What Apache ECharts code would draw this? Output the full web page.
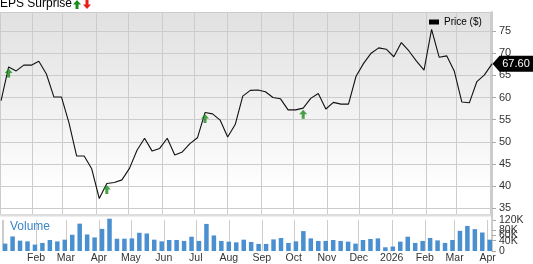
<!DOCTYPE html>
<html>
<head>
<meta charset="utf-8">
<script src="https://cdn.jsdelivr.net/npm/echarts@6/dist/echarts.min.js"></script>
<style>
html,body{margin:0;padding:0;background:#fff;}
#chart{width:533px;height:264px;}
</style>
</head>
<body>
<div id="chart"></div>
<script>
var weekDates = [
 '2025-01-03','2025-01-10','2025-01-17','2025-01-24','2025-01-31',
 '2025-02-07','2025-02-14','2025-02-21','2025-02-28',
 '2025-03-07','2025-03-14','2025-03-21','2025-03-28',
 '2025-04-04','2025-04-11','2025-04-18','2025-04-25',
 '2025-05-02','2025-05-09','2025-05-16','2025-05-23','2025-05-30',
 '2025-06-06','2025-06-13','2025-06-20','2025-06-27',
 '2025-07-04','2025-07-11','2025-07-18','2025-07-25',
 '2025-08-01','2025-08-08','2025-08-15','2025-08-22','2025-08-29',
 '2025-09-05','2025-09-12','2025-09-19','2025-09-26',
 '2025-10-03','2025-10-10','2025-10-17','2025-10-24','2025-10-31',
 '2025-11-07','2025-11-14','2025-11-21','2025-11-28',
 '2025-12-05','2025-12-12','2025-12-19','2025-12-26',
 '2026-01-02','2026-01-09','2026-01-16','2026-01-23','2026-01-30',
 '2026-02-06','2026-02-13','2026-02-20','2026-02-27',
 '2026-03-06','2026-03-13','2026-03-20','2026-03-27',
 '2026-04-03'
];
var priceValues = [
 59.3,66.9,66.0,67.3,67.3,68.2,65.3,60.1,60.1,54.2,
 46.8,46.8,43.9,37.2,40.6,40.8,41.4,44.0,48.1,50.8,
 47.9,48.5,50.8,47.0,47.7,49.6,50.9,56.6,56.3,54.9,
 51.1,53.9,60.3,61.6,61.7,61.3,60.0,59.7,57.2,57.2,
 57.6,59.8,60.9,57.4,58.9,58.5,58.5,64.8,67.7,70.0,
 71.2,70.9,69.2,72.4,70.5,68.2,66.2,75.4,69.1,69.4,
 66.0,59.0,58.8,63.6,65.1,67.6
];
var volumeValues = [
 28600,56400,40000,37300,24800,31200,42700,37300,43800,62900,
 105900,64000,52600,85700,125000,47600,47600,48800,70500,67800,
 43800,37300,42700,42700,38900,55200,38900,104800,60200,38900,
 36200,33500,43800,35000,27400,27400,45000,50300,31200,37300,
 77000,48800,38900,38900,42700,38900,36200,28600,42700,46500,
 48800,14500,17100,36200,55200,31200,38900,50300,41100,31200,
 42700,78100,97100,84600,71600,43800
];
var epsBeatDates = ['2025-01-10','2025-04-11','2025-07-11','2025-10-10'];
var priceTicks = [35,40,45,50,55,60,65,70,75];
var volumeTicks = [0,20000,40000,60000,80000,100000,120000];
var monthNames = ['Jan','Feb','Mar','Apr','May','Jun','Jul','Aug','Sep','Oct','Nov','Dec'];

var FONT = '"Liberation Sans", Arial, sans-serif';
function ts(s){ var p = s.split('-'); return Date.UTC(+p[0], +p[1]-1, +p[2]); }
var priceData = weekDates.map(function(d,i){ return [ts(d), priceValues[i]]; });
var volumeData = weekDates.map(function(d,i){ return [ts(d), volumeValues[i]]; });
var epsData = epsBeatDates.map(function(d){ return [ts(d), priceValues[weekDates.indexOf(d)]]; });
var lastIdx = weekDates.length - 1;
var xMin = Date.UTC(2025,0,2), xMax = ts(weekDates[lastIdx]);

var chart = echarts.init(document.getElementById('chart'), null, {renderer:'canvas'});
var upArrow = 'path://M4,0 L8,4.5 L5.5,4.5 L5.5,9 L2.5,9 L2.5,4.5 L0,4.5 Z';
var upPts = [[4,0],[8,4.5],[5.5,4.5],[5.5,9],[2.5,9],[2.5,4.5],[0,4.5]];
var downPts = [[2.5,0],[5.5,0],[5.5,4.5],[8,4.5],[4,9],[0,4.5],[2.5,4.5]];

function xAxisCfg(extra){
  var o = {
    type:'time', min:xMin, max:xMax, splitNumber:15,
    minInterval: 28*864e5, maxInterval: 31*864e5,
    axisLine:{show:false}, axisTick:{show:false},
    splitLine:{show:true, lineStyle:{color:'#cccccc', width:1}}
  };
  for (var k in extra) o[k] = extra[k];
  return o;
}

chart.setOption({
  animation:false,
  useUTC:true,
  textStyle:{fontFamily:FONT},
  title:[
    {text:'EPS Surprise', left:0, top:-2, padding:0,
     textStyle:{fontSize:12, fontWeight:'normal', color:'#000', fontFamily:FONT}},
    {text:'Volume', left:10, top:221, padding:0,
     textStyle:{fontSize:12, fontWeight:'normal', color:'#3a87c8', fontFamily:FONT}}
  ],
  legend:{
    data:['Price ($)'], left:424, top:12, icon:'rect', itemWidth:10, itemHeight:5,
    textStyle:{fontSize:10, color:'#000', fontFamily:FONT}, selectedMode:false
  },
  graphic:[
    {type:'polygon', shape:{points:upPts}, x:73, y:0, style:{fill:'#1a8c1a'}},
    {type:'polygon', shape:{points:downPts}, x:83, y:0, style:{fill:'#e8201c'}},
    {type:'rect', shape:{x:0, y:214, width:492, height:2.5}, style:{fill:'#dddddd'}, z:10},
    {type:'rect', shape:{x:491, y:213, width:2, height:8}, style:{fill:'#cccccc'}, z:10}
  ],
  grid:[
    {left:0, right:41, top:12, height:202, show:true, borderWidth:0,
     backgroundColor:{type:'linear', x:0, y:0, x2:0, y2:1,
       colorStops:[{offset:0, color:'#e1e1e1'},{offset:0.9, color:'#ffffff'},{offset:1, color:'#ffffff'}]}},
    {left:0, right:41, top:220, height:31.5}
  ],
  xAxis:[
    xAxisCfg({gridIndex:0, axisLabel:{show:false}}),
    xAxisCfg({gridIndex:1, axisLabel:{
      show:true, margin:2, fontSize:10.5, color:'#333', fontFamily:FONT,
      showMinLabel:false, hideOverlap:false,
      formatter:function(v){ var d = new Date(v); if (v < xMin || d.getUTCDate() !== 1) return ''; var m = d.getUTCMonth(); return m === 0 ? String(d.getUTCFullYear()) : monthNames[m]; }
    }})
  ],
  yAxis:[
    {gridIndex:0, type:'value', position:'right', min:33.7, max:79.3, splitNumber:9,
     axisLine:{show:true, lineStyle:{color:'#cccccc', width:2}},
     axisTick:{show:true, length:4, lineStyle:{color:'#aaaaaa'}},
     axisLabel:{show:true, margin:7, fontSize:11, color:'#333', fontFamily:FONT, showMinLabel:false, showMaxLabel:false,
       formatter:function(v){ return priceTicks.indexOf(v) >= 0 ? String(v) : ''; }},
     splitLine:{show:true, lineStyle:{color:'#cccccc', width:1}}},
    {gridIndex:1, type:'value', position:'right', min:0, max:120000, interval:20000,
     axisLine:{show:true, lineStyle:{color:'#cccccc', width:2}},
     axisTick:{show:true, length:4, lineStyle:{color:'#aaaaaa'}},
     axisLabel:{show:true, margin:7, fontSize:10.5, color:'#333', fontFamily:FONT,
       showMaxLabel:true, showMinLabel:true, hideOverlap:false,
       formatter:function(v){ if (volumeTicks.indexOf(v) < 0) return ''; return v === 0 ? '0' : (v/1000) + 'K'; }},
     splitLine:{show:false}}
  ],
  series:[
    {name:'Price ($)', type:'line', xAxisIndex:0, yAxisIndex:0, data:priceData,
     showSymbol:false, symbol:'none', clip:false, color:'#000',
     lineStyle:{color:'#111', width:1.1}, z:5,
     markPoint:{
       symbol:'path://M0,8 L7,0 L41,0 L41,16 L7,16 Z', symbolSize:[41,16], symbolOffset:[21,0],
       itemStyle:{color:'#000'},
       label:{show:true, position:'inside', offset:[3,0], color:'#fff', fontSize:11, fontFamily:FONT,
         formatter:function(p){ return Number(p.value).toFixed(2); }},
       data:[{coord:priceData[lastIdx], value:priceValues[lastIdx]}]
     }},
    {name:'EPS', type:'scatter', xAxisIndex:0, yAxisIndex:0, data:epsData,
     symbol:upArrow, symbolSize:[8,9], symbolOffset:[0,6], itemStyle:{color:'#1a8c1a'}, z:6, clip:false},
    {name:'Volume', type:'bar', xAxisIndex:1, yAxisIndex:1, data:volumeData,
     barWidth:4.5, itemStyle:{color:'#4a8fd0'}, clip:false}
  ]
});
</script>
</body>
</html>
